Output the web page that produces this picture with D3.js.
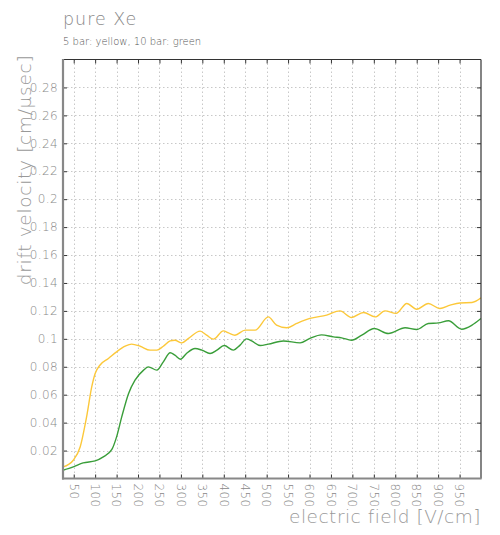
<!DOCTYPE html>
<html>
<head>
<meta charset="utf-8">
<script src="https://cdn.jsdelivr.net/npm/d3@7"></script>
<style>
  html, body { margin: 0; padding: 0; background: #fff; }
  svg { display: block; }
  text { font-family: "DejaVu Sans", sans-serif; font-weight: 200; }
</style>
</head>
<body>
<svg id="chart" width="500" height="535"></svg>
<script>
// ---- data ----
const title = "pure Xe";
const subtitle = "5 bar: yellow, 10 bar: green";
const xLabel = "electric field [V/cm]";
const yLabel = "drift velocity [cm/\u03BCsec]";

const xTicks = [50,100,150,200,250,300,350,400,450,500,550,600,650,700,750,800,850,900,950];
const yTicks = [0.02,0.04,0.06,0.08,0.1,0.12,0.14,0.16,0.18,0.2,0.22,0.24,0.26,0.28];

// 5 bar (yellow)
const field5 = [25,49,65,80,92,100,111,131,150,170,185,205,228,244,259,275,286,302,317,345,360,376,399,411,426,450,473,504,523,547,570,601,640,671,698,726,753,776,802,827,850,877,904,928,951,979,1000];
const vel5   = [0.0083,0.0131,0.0226,0.0441,0.0656,0.0752,0.0811,0.0859,0.0907,0.0947,0.0962,0.0947,0.0919,0.0919,0.0947,0.0985,0.099,0.0971,0.1002,0.1055,0.1026,0.0998,0.1057,0.1043,0.1026,0.1062,0.1062,0.1157,0.1098,0.1079,0.111,0.1146,0.117,0.12,0.1153,0.1189,0.1157,0.12,0.1182,0.1253,0.1212,0.1253,0.1217,0.1241,0.1257,0.126,0.1293];

// 10 bar (green)
const field10 = [25,49,72,100,119,139,150,162,178,193,213,224,244,259,275,286,299,313,333,349,368,384,401,422,438,453,465,485,504,539,578,601,628,656,675,698,722,751,784,823,850,877,901,924,955,979,1000];
const vel10   = [0.0059,0.0083,0.0112,0.0126,0.0155,0.0208,0.0298,0.0441,0.0609,0.0704,0.0776,0.0799,0.0776,0.0835,0.09,0.0883,0.0854,0.0895,0.0931,0.0919,0.0895,0.0919,0.0952,0.0919,0.0955,0.1,0.0985,0.0952,0.0962,0.0985,0.0971,0.1003,0.1028,0.1014,0.1007,0.099,0.1026,0.1074,0.1038,0.1079,0.1067,0.111,0.1114,0.1129,0.1069,0.1098,0.1146];

// ---- layout ----
const svg = d3.select("#chart");
const mLeft = 63, mRight = 481, mTop = 59.5, mBottom = 478.5;

const x = d3.scaleLinear().domain([25, 1000]).range([mLeft, mRight]);
const y = d3.scaleLinear().domain([0, 0.3]).range([mBottom, mTop]);

// grid
const grid = svg.append("g");
grid.selectAll(".vg").data(xTicks).join("line")
  .attr("x1", d => Math.round(x(d)) + 0.5).attr("x2", d => Math.round(x(d)) + 0.5)
  .attr("y1", mTop).attr("y2", mBottom)
  .attr("stroke", "#c8c8c8").attr("stroke-width", 1).attr("stroke-dasharray", "1.5,2.5");
grid.selectAll(".hg").data(yTicks).join("line")
  .attr("y1", d => Math.round(y(d)) + 0.5).attr("y2", d => Math.round(y(d)) + 0.5)
  .attr("x1", mLeft).attr("x2", mRight)
  .attr("stroke", "#c8c8c8").attr("stroke-width", 1).attr("stroke-dasharray", "1.5,2.5");

// lines
const line = d3.line().curve(d3.curveMonotoneX);
svg.append("clipPath").attr("id", "clip").append("rect")
  .attr("x", mLeft).attr("y", mTop).attr("width", mRight - mLeft).attr("height", mBottom - mTop);
const series = [
  {xs: field10, ys: vel10, color: "#3a9e3a"},
  {xs: field5, ys: vel5, color: "#fcc83a"}
];
series.forEach(s => {
  svg.append("path")
    .attr("clip-path", "url(#clip)")
    .attr("d", line(s.xs.map((v, i) => [x(v), y(s.ys[i])])))
    .attr("fill", "none").attr("stroke", s.color).attr("stroke-width", 1.4);
});

// axes (ticks inward)
const tickFmt = d3.format("~g");
const axB = svg.append("g").attr("transform", `translate(0,${mBottom})`)
  .call(d3.axisBottom(x).tickValues(xTicks).tickSize(-4).tickFormat(""));
const axT = svg.append("g").attr("transform", `translate(0,${mTop})`)
  .call(d3.axisTop(x).tickValues(xTicks).tickSize(-4).tickFormat(""));
const axL = svg.append("g").attr("transform", `translate(${mLeft},0)`)
  .call(d3.axisLeft(y).tickValues(yTicks).tickSize(-4).tickFormat(""));
const axR = svg.append("g").attr("transform", `translate(${mRight},0)`)
  .call(d3.axisRight(y).tickValues(yTicks).tickSize(-4).tickFormat(""));
[axB, axT, axL, axR].forEach(a => {
  a.select(".domain").remove();
  a.selectAll(".tick line").attr("stroke", "#333").attr("stroke-width", 1);
});

// frame
svg.append("line").attr("x1", mLeft).attr("x2", mRight).attr("y1", mTop).attr("y2", mTop)
  .attr("stroke", "#333").attr("stroke-width", 1.2);
svg.append("line").attr("x1", mRight).attr("x2", mRight).attr("y1", mTop).attr("y2", mBottom)
  .attr("stroke", "#333").attr("stroke-width", 1.2);
svg.append("line").attr("x1", mLeft).attr("x2", mLeft).attr("y1", mTop - 0.6).attr("y2", mBottom + 1)
  .attr("stroke", "#888").attr("stroke-width", 2.2);
svg.append("line").attr("x1", mLeft - 1).attr("x2", mRight + 0.6).attr("y1", mBottom).attr("y2", mBottom)
  .attr("stroke", "#888").attr("stroke-width", 2.2);

// tick labels
svg.append("g").selectAll("text").data(yTicks).join("text")
  .attr("x", mLeft - 5).attr("y", d => y(d)).attr("dy", "0.35em")
  .attr("text-anchor", "end").attr("font-size", 12).attr("letter-spacing", 0.4).attr("fill", "#888")
  .text(d => tickFmt(d));
svg.append("g").selectAll("text").data(xTicks).join("text")
  .attr("transform", d => `translate(${x(d)},${mBottom + 5}) rotate(90)`)
  .attr("dy", "0.35em")
  .attr("text-anchor", "start").attr("font-size", 12).attr("letter-spacing", 0.4).attr("fill", "#888")
  .text(d => d);

// titles
svg.append("text").attr("x", 63).attr("y", 25).attr("font-size", 17.5).attr("letter-spacing", 1)
  .attr("fill", "#888").text(title);
svg.append("text").attr("x", 63).attr("y", 45).attr("font-size", 10).attr("fill", "#555").text(subtitle);
svg.append("text").attr("x", mRight).attr("y", 523).attr("text-anchor", "end")
  .attr("font-size", 18.5).attr("letter-spacing", 0.5).attr("fill", "#999").text(xLabel);
svg.append("text").attr("transform", `translate(31,170) rotate(-90)`).attr("text-anchor", "middle")
  .attr("font-size", 18.5).attr("letter-spacing", 0.7).attr("fill", "#999").text(yLabel);
</script>
</body>
</html>
